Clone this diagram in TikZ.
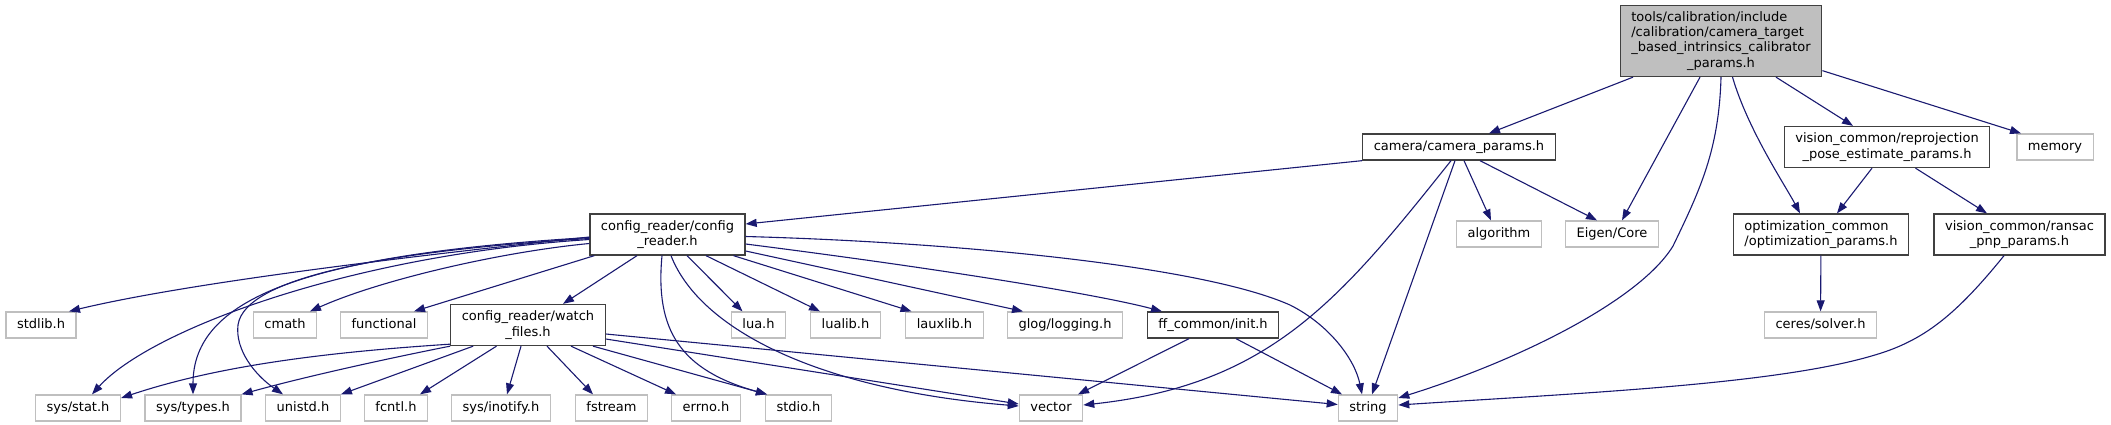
\documentclass[tikz,border=0pt]{standalone}
\usepackage{fontspec}
\setmainfont{DejaVu Sans}
\usetikzlibrary{arrows.meta}
\definecolor{edgeblue}{HTML}{191970}
\definecolor{hdrline}{HTML}{404040}
\definecolor{sysline}{HTML}{BFBFBF}
\definecolor{rootfill}{HTML}{BFBFBF}
\tikzstyle{hdr}=[draw=hdrline, fill=white, line width=1.3pt, inner xsep=11pt, inner ysep=0pt, font=\fontsize{13}{15.3}\selectfont, align=center]
\tikzstyle{sys}=[hdr, draw=sysline]
\tikzstyle{oneline}=[minimum height=26pt, text height=10pt, text depth=3.5pt]
\tikzstyle{twoline}=[minimum height=41pt]
\tikzstyle{dep}=[draw=edgeblue, line width=1.1pt, -{Triangle[length=11pt,width=8pt]}]

\begin{document}
\begin{tikzpicture}[x=1pt, y=-1pt]
\useasboundingbox (0,0) rectangle (2111,424);
\node[hdr, fill=rootfill, minimum height=71pt] (root) at (1721,41) {\begin{tabular}{@{}l@{}}tools/calibration/include\\/calibration/camera\_target\\\_based\_intrinsics\_calibrator\\\multicolumn{1}{@{}c@{}}{\_params.h}\end{tabular}};
\node[hdr, oneline] (cam) at (1459,147) {camera/camera\_params.h};
\node[hdr, twoline] (repro) at (1887,147) {vision\_common/reprojection\\\_pose\_estimate\_params.h};
\node[sys, oneline] (memory) at (2055,147) {memory};
\node[hdr, twoline] (cfg) at (667.5,234.5) {config\_reader/config\\\_reader.h};
\node[sys, oneline] (algorithm) at (1499,234) {algorithm};
\node[sys, oneline] (eigen) at (1612,234) {Eigen/Core};
\node[hdr, twoline, align=left] (optim) at (1821,234.5) {optimization\_common\\/optimization\_params.h};
\node[hdr, twoline] (ransac) at (2019.5,234.5) {vision\_common/ransac\\\_pnp\_params.h};
\foreach \n/\x/\t in {stdlib/41/{stdlib.h}, cmath/285/{cmath}, functional/384/{functional}, lua/758.5/{lua.h}, lualib/845.5/{lualib.h}, lauxlib/944.5/{lauxlib.h}, glog/1065/{glog/logging.h}, ceres/1820.5/{ceres/solver.h}}
  {\node[sys, oneline] (\n) at (\x,325) {\t};}
\node[hdr, twoline] (watch) at (528,325) {config\_reader/watch\\\_files.h};
\node[hdr, oneline] (init) at (1213,325) {ff\_common/init.h};
\foreach \n/\x/\t in {sysstat/78/{sys/stat.h}, systypes/193/{sys/types.h}, unistd/303/{unistd.h}, fcntl/396/{fcntl.h}, inotify/501/{sys/inotify.h}, fstream/611.5/{fstream}, errno/706/{errno.h}, stdio/798.5/{stdio.h}, vector/1051/{vector}, string/1368/{string}}
  {\node[sys, oneline] (\n) at (\x,408) {\t};}
% main header
\draw[dep] ([xshift=-88pt]root.south) -- ([xshift=30pt]cam.north);
\draw[dep] ([xshift=-21pt]root.south) -- ([xshift=10pt]eigen.north);
\draw[dep] (root.south) .. controls (1719,150) and (1700,190) .. (1673,246) .. controls (1640,300) and (1520,360) .. ([yshift=10pt]string.east);
\draw[dep] ([xshift=11.5pt]root.south) .. controls (1748,130) and (1785,185) .. ([xshift=-21pt]optim.north);
\draw[dep] ([xshift=55pt]root.south) -- ([xshift=-34pt]repro.north);
\draw[dep] ([yshift=6.5pt]root.south east) -- ([xshift=-34pt]memory.north);
% camera params
\draw[dep] (cam.south west) -- ([yshift=10.5pt]cfg.east);
\draw[dep] ([xshift=-8pt]cam.south) .. controls (1340,300) and (1270,385) .. ([yshift=3pt]vector.east);
\draw[dep] ([xshift=-4pt]cam.south) -- ([xshift=4pt]string.north);
\draw[dep] ([xshift=5pt]cam.south) -- ([xshift=-8pt]algorithm.north);
\draw[dep] ([xshift=21pt]cam.south) -- ([xshift=-15pt]eigen.north);
\draw[dep] ([xshift=-15pt]repro.south) -- ([xshift=16pt]optim.north);
\draw[dep] ([xshift=28.5pt]repro.south) -- ([xshift=-32.5pt]ransac.north);
\draw[dep] (optim) -- (ceres);
\draw[dep] ([xshift=-15.5pt]ransac.south) .. controls (1960,310) and (1930,335) .. (1890,350) .. controls (1800,383) and (1600,392) .. ([yshift=3pt]string.east);
\draw[dep] ([xshift=-24pt]init.south) -- ([xshift=27pt]vector.north);
\draw[dep] ([xshift=23pt]init.south) -- ([xshift=-26pt]string.north);
% config reader
\draw[dep] ([yshift=-2.5pt]cfg.west) .. controls (450,252) and (200,280) .. ([xshift=28pt]stdlib.north);
\draw[dep] ([yshift=-5pt]cfg.west) .. controls (350,255) and (150,330) .. ([xshift=14pt]sysstat.north);
\draw[dep] ([yshift=-3pt]cfg.west) .. controls (300,255) and (193,300) .. (systypes.north);
\draw[dep] ([yshift=-4pt]cfg.west) .. controls (400,250) and (245,275) .. (238,325) .. controls (235,350) and (255,375) .. ([xshift=-20pt]unistd.north);
\draw[dep] ([yshift=-9pt]cfg.west) .. controls (500,252) and (380,280) .. ([xshift=25pt]cmath.north);
\draw[dep] ([xshift=5pt]cfg.south west) -- ([xshift=30pt]functional.north);
\draw[dep] ([xshift=-30.5pt]cfg.south) -- ([xshift=35pt]watch.north);
\draw[dep] ([xshift=-5.5pt]cfg.south) .. controls (655,330) and (680,370) .. ([xshift=2pt]stdio.north west);
\draw[dep] ([xshift=3.5pt]cfg.south) .. controls (700,330) and (820,390) .. ([yshift=2pt]vector.west);
\draw[dep] ([xshift=19.5pt]cfg.south) -- ([xshift=-16pt]lua.north);
\draw[dep] ([xshift=38.5pt]cfg.south) -- ([xshift=-25.5pt]lualib.north);
\draw[dep] ([xshift=66pt]cfg.south) -- ([xshift=-33pt]lauxlib.north);
\draw[dep] ([yshift=-16.5pt]cfg.east) -- ([xshift=-42pt]glog.north);
\draw[dep] ([yshift=-9.5pt]cfg.east) .. controls (950,270) and (1100,295) .. ([xshift=-51pt]init.north);
\draw[dep] ([yshift=-2pt]cfg.east) .. controls (950,242) and (1200,265) .. (1290,305) .. controls (1330,325) and (1355,360) .. ([xshift=-6pt]string.north);
% watch files
\draw[dep] ([yshift=2pt]watch.south west) .. controls (330,352) and (220,365) .. ([yshift=10pt]sysstat.east);
\draw[dep] (watch.south west) .. controls (380,360) and (300,378) .. (systypes.north east);
\draw[dep] ([xshift=23pt]watch.south west) -- (unistd.north east);
\draw[dep] ([xshift=-31.5pt]watch.south) -- ([xshift=24pt]fcntl.north);
\draw[dep] ([xshift=-7pt]watch.south) -- ([xshift=6pt]inotify.north);
\draw[dep] ([xshift=19pt]watch.south) -- ([xshift=-18.5pt]fstream.north);
\draw[dep] ([xshift=43pt]watch.south) -- ([xshift=-30pt]errno.north);
\draw[dep] ([xshift=65pt]watch.south) -- ([xshift=2pt]stdio.north west);
\draw[dep] ([yshift=-14pt]watch.east) -- ([yshift=4pt]vector.west);
\draw[dep] ([yshift=-9pt]watch.east) -- ([yshift=3.5pt]string.west);
\end{tikzpicture}
\end{document}
